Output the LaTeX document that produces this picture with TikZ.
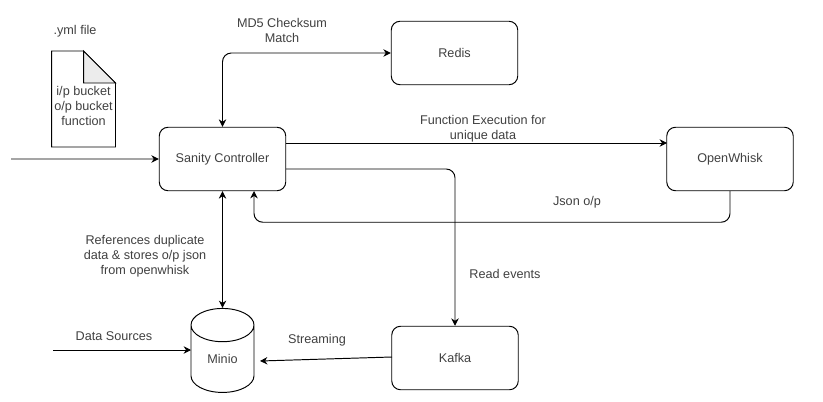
\documentclass[tikz,border=0pt]{standalone}
\usepackage{fontspec}
\setmainfont{Liberation Sans}
\usetikzlibrary{positioning, arrows.meta, shapes.geometric}
\definecolor{labelgray}{gray}{0.25}
\tikzset{>={Stealth[length=4.2pt, width=4.2pt]},
every node/.style={font=\fontsize{7.2}{8.5}\selectfont, text=labelgray, align=center},
every path/.style={line width=0.55pt},
box/.style={draw, rounded corners=5pt, minimum width=2.53cm, minimum height=1.27cm, inner sep=0pt},
free/.style={inner sep=0pt},
}

\begin{document}
\begin{tikzpicture}
    \useasboundingbox (0,0) rectangle (16.46,8.02);

    \node[box, xshift=4.45cm, yshift=4.84cm] (sanity) {Sanity Controller};
    \node[box, xshift=9.09cm, yshift=6.96cm] (redis) {Redis};
    \node[box, xshift=14.6cm, yshift=4.84cm] (whisk) {OpenWhisk};
    \node[box, xshift=9.1cm, yshift=0.86cm] (kafka) {Kafka};
    \node[cylinder, draw, shape border rotate=90, aspect=1.1, minimum width=1.26cm, minimum height=1.68cm, inner sep=0pt, xshift=4.45cm, yshift=0.84cm] (minio) {Minio};

    % yml file
    \node[free, minimum width=1.26cm, minimum height=1.9cm, xshift=1.67cm, yshift=6.04cm] (yml) {};
    \draw (yml.north west) -- ++(0.64,0) coordinate (foldtop) -- ([yshift=-0.64cm]yml.north east) coordinate (foldside) -- (yml.south east) -- (yml.south west) -- cycle;
    \draw[fill=gray!15] (foldtop) -- (foldside) -- (foldtop |- foldside) -- cycle;
    \node[free, below=0.06cm of foldtop |- foldside] (ymltext) {i/p bucket\\o/p bucket\\function};
    \node[free, xshift=1.5cm, yshift=7.4cm] (ymllabel) {.yml file};

    % free ends
    \coordinate (input) at (0.22,4.84);
    \coordinate (sources) at (1.06,1.02);
    \coordinate (minioin) at (3.82,1.02);
    \coordinate (miniokafka) at (5.2,0.8);
    \coordinate (kafkaout) at (7.84,0.88);
    \coordinate (fnstart) at (5.72,5.16);
    \coordinate (fnend) at (13.34,5.16);
    \coordinate (readstart) at (5.72,4.64);
    \coordinate (jsonend) at (5.08,4.2);

    \draw[->] (input) -- (sanity.west);
    \draw[<->, rounded corners=5pt] (sanity.north) |- (redis.west);
    \draw[->] (fnstart) -- (fnend);
    \draw[->, rounded corners=5pt] (readstart) -| (kafka.north);
    \draw[->, rounded corners=5pt] (whisk.south) |- ([yshift=-0.62cm]jsonend |- whisk.south) -- (jsonend);
    \draw[<->] (sanity.south) -- (minio.top);
    \draw[->] (sources) -- (minioin);
    \draw[->] (kafkaout) -- (miniokafka);

    \node[free, xshift=5.64cm, yshift=7.41cm] (md5) {MD5 Checksum\\Match};
    \node[free, xshift=9.66cm, yshift=5.45cm] (fnexec) {Function Execution for\\unique data};
    \node[free, xshift=11.54cm, yshift=3.98cm] (json) {Json o/p};
    \node[free, xshift=10.1cm, yshift=2.54cm] (read) {Read events};
    \node[free, xshift=2.9cm, yshift=2.9cm] (refs) {References duplicate\\data \& stores o/p json\\from openwhisk};
    \node[free, xshift=2.28cm, yshift=1.3cm] (data) {Data Sources};
    \node[free, xshift=6.34cm, yshift=1.22cm] (stream) {Streaming};
\end{tikzpicture}
\end{document}
